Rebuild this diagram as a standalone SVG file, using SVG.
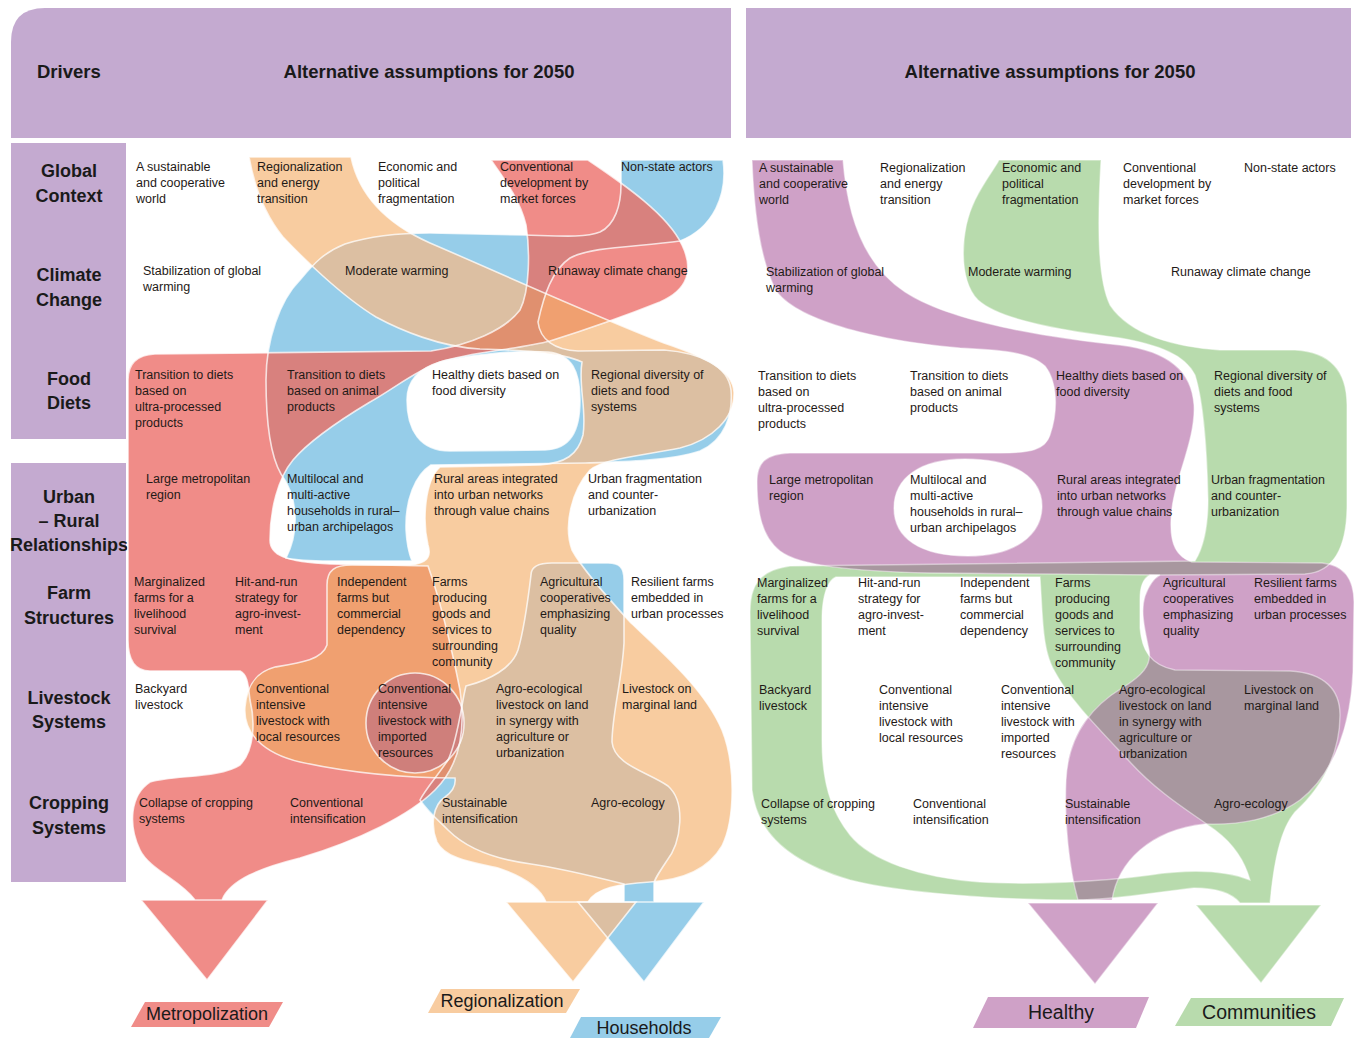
<svg xmlns="http://www.w3.org/2000/svg" width="1359" height="1038" viewBox="0 0 1359 1038">
<style>
.t{font-family:"Liberation Sans",Arial,sans-serif;font-size:12.5px;fill:#1f1a17}
.h{font-family:"Liberation Sans",Arial,sans-serif;font-size:18.5px;font-weight:bold;fill:#1a1a1a}
.r{font-family:"Liberation Sans",Arial,sans-serif;font-size:18px;font-weight:bold;fill:#1a1a1a;text-anchor:middle}
.o{font-family:"Liberation Sans",Arial,sans-serif;font-size:18px;fill:#1a1a1a;text-anchor:middle}
.band{fill:#c4aad0}
.ol{fill:none;stroke:#fff;stroke-width:1.6;stroke-opacity:.75}
.olr{fill:none;stroke:#fff;stroke-width:1.4;stroke-opacity:.45}
</style>
<defs>
<path id="pB" fill-rule="evenodd" clip-rule="evenodd" d="M621,160 L723,160 C728,195 713,228 680,241 C640,247 592,246 570,258 C552,270 544,295 538,322 C540,340 555,350 578,351 L664,350 C700,353 728,365 731,390 C733,415 725,440 700,451 C670,461 620,462 585,463 L431,465 C415,475 405,500 406,530 C407,548 410,556 412,561 L330,561 C310,561 295,560 286,558 C298,535 300,500 281,474 C270,455 266,420 266,380 C266,340 280,300 300,280 C315,262 325,252 345,244 C370,236 400,233 430,233 L524,235 C560,236 585,238 600,232 C615,225 621,205 621,185 Z M407,400 C407,380 420,368 440,362 C470,354 520,350 548,352 C572,354 580,372 580,400 C580,432 570,449 545,450 L450,451 C420,451 407,430 407,400 Z M531,575 C531,566 540,563 552,563 L608,563 C620,563 624,568 624,580 L624,643 C622,680 612,715 612,742 C614,765 648,772 668,786 C686,802 682,842 666,862 C658,874 654,880 654,884 L654,902 L624,902 L624,884 C600,878 560,868 531,864 C500,860 468,850 448,830 C438,820 428,812 420,800 C425,790 438,775 448,760 C458,740 462,700 466,686 C490,680 512,668 518,650 C524,630 528,600 531,575 Z M578,902 L704,902 L644,982 Z"/>
<path id="pO" d="M249,157 L351,157 C360,200 392,226 430,243 C500,273 585,312 664,343 C705,357 733,370 734,392 C735,418 712,440 680,448 C640,456 605,458 590,470 C572,490 563,525 572,550 C582,568 605,595 631,623 C665,655 705,690 722,730 C736,765 735,820 722,846 C708,870 682,880 650,882 C618,884 596,888 588,902 L546,902 C540,888 522,876 498,868 C470,862 445,858 437,842 C430,825 433,805 445,797 C452,792 456,785 455,778 C420,778 360,775 300,762 C262,753 243,732 245,707 C247,685 256,672 275,667 C300,663 322,660 327,645 L327,585 C327,570 335,565 352,565 L410,565 C426,563 432,558 428,545 C422,520 425,480 440,467 L540,465 C565,463 578,455 583,435 C587,410 578,385 582,362 C560,352 520,350 480,349 C440,347 400,330 376,317 C340,295 300,255 283,237 C265,215 255,190 249,157 Z M506,902 L636,902 L573,982 Z"/>
<path id="pR" d="M491,160 L588,160 C625,185 668,215 682,245 C694,270 688,290 660,302 C625,316 585,330 550,341 C520,349 470,352 440,362 C415,371 395,388 370,402 C340,420 310,440 293,460 C278,478 270,510 270,540 C270,555 285,562 330,564 L428,566 C440,600 452,650 460,690 C466,730 460,765 435,790 C410,815 360,840 300,858 C260,868 230,880 222,900 L195,900 C180,880 150,870 140,850 C128,825 130,795 150,782 C175,775 220,778 240,765 C255,750 255,720 250,700 C248,685 248,675 240,671 L150,671 C135,671 128,660 128,640 L128,380 C128,365 135,355 155,354 L431,351 C470,345 505,330 520,310 C530,290 530,250 526,225 C520,200 505,180 491,160 Z M141,900 L268,900 L207,980 Z"/>
<path id="pP" fill-rule="evenodd" clip-rule="evenodd" d="M752,160 L843,160 C848,222 866,266 905,292 C950,322 1050,338 1120,345 C1170,351 1192,372 1194,405 C1196,442 1172,482 1171,520 C1170,545 1177,557 1192,562 L1322,563 C1345,565 1354,580 1354,602 L1353,672 C1351,722 1336,772 1300,800 C1272,820 1240,825 1205,824 C1150,830 1118,862 1112,900 L1078,900 C1069,868 1064,820 1066,780 C1068,740 1086,710 1122,688 C1142,676 1152,665 1149,650 C1145,630 1140,612 1145,596 C1149,585 1154,578 1160,575 C1100,574 1000,574 930,573 C850,571 800,566 780,551 C761,536 757,510 757,482 C757,463 765,454 790,453 L1000,453 C1030,453 1045,450 1050,435 C1058,412 1058,382 1045,366 C1030,352 1000,350 960,348 C880,341 800,322 777,292 C760,262 754,212 752,160 Z M894,508 C894,478 920,459 965,459 C1015,459 1042,478 1042,506 C1042,535 1015,556 968,556 C920,556 894,538 894,508 Z M1028,903 L1158,903 L1095,984 Z"/>
<path id="pG" fill-rule="evenodd" clip-rule="evenodd" d="M999,160 L1101,160 C1097,230 1098,280 1110,305 C1130,335 1175,347 1220,350 L1295,350 C1330,352 1347,370 1347,405 L1347,505 C1347,545 1335,572 1305,574 L1150,575 C1142,579 1140,588 1140,600 L1140,628 C1142,650 1150,665 1175,670 L1290,671 C1325,673 1340,690 1340,715 C1340,750 1325,785 1295,812 C1280,830 1274,862 1270,903 L1240,903 C1232,893 1215,888 1194,888 C1150,893 1110,900 1077,900 C1000,900 900,893 850,880 C790,862 758,835 752,790 L750,612 C750,585 760,570 790,566 L1195,561 C1205,545 1208,520 1208,500 C1207,450 1203,400 1195,375 C1185,355 1160,345 1120,338 C1060,330 1000,320 978,300 C958,280 960,230 975,200 C985,180 995,168 999,160 Z M836,577 L1040,577 C1043,620 1042,650 1055,672 C1070,700 1100,730 1130,762 C1160,795 1195,815 1215,830 C1235,845 1245,862 1250,880 C1225,870 1190,869 1150,875 C1100,882 1030,885 980,882 C920,878 870,860 850,835 C830,810 822,780 822,740 L822,620 C822,595 828,580 836,577 Z M1196,905 L1321,905 L1261,983 Z"/>
<clipPath id="cB"><use href="#pB" clip-rule="evenodd"/></clipPath>
<clipPath id="cO"><use href="#pO"/></clipPath>
<clipPath id="cG"><use href="#pG" clip-rule="evenodd"/></clipPath>
</defs>

<g id="header-left"><path class="band" d="M11,138 L11,42 Q11,8 45,8 L731,8 L731,138 Z"/>
<text class="h" x="37" y="78">Drivers</text>
<text class="h" x="429" y="78" text-anchor="middle">Alternative assumptions for 2050</text></g>
<g id="header-right"><rect class="band" x="746" y="8" width="605" height="130"/>
<text class="h" x="1050" y="78" text-anchor="middle">Alternative assumptions for 2050</text></g>

<g id="row-labels">
<rect class="band" x="11" y="143" width="115" height="296"/>
<rect class="band" x="11" y="463" width="115" height="419"/>
<g id="lab-global"><text class="r" x="69" y="177">Global</text><text class="r" x="69" y="202">Context</text></g>
<g id="lab-climate"><text class="r" x="69" y="281">Climate</text><text class="r" x="69" y="306">Change</text></g>
<g id="lab-food"><text class="r" x="69" y="385">Food</text><text class="r" x="69" y="409">Diets</text></g>
<g id="lab-urban"><text class="r" x="69" y="503">Urban</text><text class="r" x="69" y="527">– Rural</text><text class="r" x="69" y="551">Relationships</text></g>
<g id="lab-farm"><text class="r" x="69" y="599">Farm</text><text class="r" x="69" y="624">Structures</text></g>
<g id="lab-livestock"><text class="r" x="69" y="704">Livestock</text><text class="r" x="69" y="728">Systems</text></g>
<g id="lab-cropping"><text class="r" x="69" y="809">Cropping</text><text class="r" x="69" y="834">Systems</text></g>
</g>

<g id="connectors">
<g id="flows-left">
<use href="#pB" fill="#96cde9"/>
<use href="#pO" fill="#f8cca0"/>
<use href="#pR" fill="#f08c88"/>
<g clip-path="url(#cB)"><use href="#pO" fill="#dcbfa2"/></g>
<g clip-path="url(#cB)"><use href="#pR" fill="#d8817e"/></g>
<g clip-path="url(#cO)"><use href="#pR" fill="#f0a070"/></g>
<g clip-path="url(#cO)"><g clip-path="url(#cB)"><use href="#pR" fill="#e0906f"/></g></g>
<ellipse cx="415" cy="723" rx="49" ry="50" fill="#cf7f7b"/>
<use href="#pB" class="ol"/>
<use href="#pO" class="ol"/>
<use href="#pR" class="ol"/>
<ellipse cx="415" cy="723" rx="49" ry="50" class="ol"/>
</g>
<g id="flows-right">
<use href="#pG" fill="#b8dbad"/>
<use href="#pP" fill="#cfa1c7"/>
<g clip-path="url(#cG)"><use href="#pP" fill="#a8979f"/></g>
<use href="#pG" class="olr"/>
<use href="#pP" class="olr"/>
</g>
</g>

<g id="cells-left">
<g id="L-gc1"><text class="t" x="136" y="171">A sustainable<tspan x="136" dy="16">and cooperative</tspan><tspan x="136" dy="16">world</tspan></text></g>
<g id="L-gc2"><text class="t" x="257" y="171">Regionalization<tspan x="257" dy="16">and energy</tspan><tspan x="257" dy="16">transition</tspan></text></g>
<g id="L-gc3"><text class="t" x="378" y="171">Economic and<tspan x="378" dy="16">political</tspan><tspan x="378" dy="16">fragmentation</tspan></text></g>
<g id="L-gc4"><text class="t" x="500" y="171">Conventional<tspan x="500" dy="16">development by</tspan><tspan x="500" dy="16">market forces</tspan></text></g>
<g id="L-gc5"><text class="t" x="621" y="171">Non-state actors</text></g>
<g id="L-cc1"><text class="t" x="143" y="275">Stabilization of global<tspan x="143" dy="16">warming</tspan></text></g>
<g id="L-cc2"><text class="t" x="345" y="275">Moderate warming</text></g>
<g id="L-cc3"><text class="t" x="548" y="275">Runaway climate change</text></g>
<g id="L-fd1"><text class="t" x="135" y="379">Transition to diets<tspan x="135" dy="16">based on</tspan><tspan x="135" dy="16">ultra-processed</tspan><tspan x="135" dy="16">products</tspan></text></g>
<g id="L-fd2"><text class="t" x="287" y="379">Transition to diets<tspan x="287" dy="16">based on animal</tspan><tspan x="287" dy="16">products</tspan></text></g>
<g id="L-fd3"><text class="t" x="432" y="379">Healthy diets based on<tspan x="432" dy="16">food diversity</tspan></text></g>
<g id="L-fd4"><text class="t" x="591" y="379">Regional diversity of<tspan x="591" dy="16">diets and food</tspan><tspan x="591" dy="16">systems</tspan></text></g>
<g id="L-ur1"><text class="t" x="146" y="483">Large metropolitan<tspan x="146" dy="16">region</tspan></text></g>
<g id="L-ur2"><text class="t" x="287" y="483">Multilocal and<tspan x="287" dy="16">multi-active</tspan><tspan x="287" dy="16">households in rural–</tspan><tspan x="287" dy="16">urban archipelagos</tspan></text></g>
<g id="L-ur3"><text class="t" x="434" y="483">Rural areas integrated<tspan x="434" dy="16">into urban networks</tspan><tspan x="434" dy="16">through value chains</tspan></text></g>
<g id="L-ur4"><text class="t" x="588" y="483">Urban fragmentation<tspan x="588" dy="16">and counter-</tspan><tspan x="588" dy="16">urbanization</tspan></text></g>
<g id="L-fs1"><text class="t" x="134" y="586">Marginalized<tspan x="134" dy="16">farms for a</tspan><tspan x="134" dy="16">livelihood</tspan><tspan x="134" dy="16">survival</tspan></text></g>
<g id="L-fs2"><text class="t" x="235" y="586">Hit-and-run<tspan x="235" dy="16">strategy for</tspan><tspan x="235" dy="16">agro-invest-</tspan><tspan x="235" dy="16">ment</tspan></text></g>
<g id="L-fs3"><text class="t" x="337" y="586">Independent<tspan x="337" dy="16">farms but</tspan><tspan x="337" dy="16">commercial</tspan><tspan x="337" dy="16">dependency</tspan></text></g>
<g id="L-fs4"><text class="t" x="432" y="586">Farms<tspan x="432" dy="16">producing</tspan><tspan x="432" dy="16">goods and</tspan><tspan x="432" dy="16">services to</tspan><tspan x="432" dy="16">surrounding</tspan><tspan x="432" dy="16">community</tspan></text></g>
<g id="L-fs5"><text class="t" x="540" y="586">Agricultural<tspan x="540" dy="16">cooperatives</tspan><tspan x="540" dy="16">emphasizing</tspan><tspan x="540" dy="16">quality</tspan></text></g>
<g id="L-fs6"><text class="t" x="631" y="586">Resilient farms<tspan x="631" dy="16">embedded in</tspan><tspan x="631" dy="16">urban processes</tspan></text></g>
<g id="L-ls1"><text class="t" x="135" y="693">Backyard<tspan x="135" dy="16">livestock</tspan></text></g>
<g id="L-ls2"><text class="t" x="256" y="693">Conventional<tspan x="256" dy="16">intensive</tspan><tspan x="256" dy="16">livestock with</tspan><tspan x="256" dy="16">local resources</tspan></text></g>
<g id="L-ls3"><text class="t" x="378" y="693">Conventional<tspan x="378" dy="16">intensive</tspan><tspan x="378" dy="16">livestock with</tspan><tspan x="378" dy="16">imported</tspan><tspan x="378" dy="16">resources</tspan></text></g>
<g id="L-ls4"><text class="t" x="496" y="693">Agro-ecological<tspan x="496" dy="16">livestock on land</tspan><tspan x="496" dy="16">in synergy with</tspan><tspan x="496" dy="16">agriculture or</tspan><tspan x="496" dy="16">urbanization</tspan></text></g>
<g id="L-ls5"><text class="t" x="622" y="693">Livestock on<tspan x="622" dy="16">marginal land</tspan></text></g>
<g id="L-cs1"><text class="t" x="139" y="807">Collapse of cropping<tspan x="139" dy="16">systems</tspan></text></g>
<g id="L-cs2"><text class="t" x="290" y="807">Conventional<tspan x="290" dy="16">intensification</tspan></text></g>
<g id="L-cs3"><text class="t" x="442" y="807">Sustainable<tspan x="442" dy="16">intensification</tspan></text></g>
<g id="L-cs4"><text class="t" x="591" y="807">Agro-ecology</text></g>
</g>

<g id="cells-right">
<g id="R-gc1"><text class="t" x="759" y="172">A sustainable<tspan x="759" dy="16">and cooperative</tspan><tspan x="759" dy="16">world</tspan></text></g>
<g id="R-gc2"><text class="t" x="880" y="172">Regionalization<tspan x="880" dy="16">and energy</tspan><tspan x="880" dy="16">transition</tspan></text></g>
<g id="R-gc3"><text class="t" x="1002" y="172">Economic and<tspan x="1002" dy="16">political</tspan><tspan x="1002" dy="16">fragmentation</tspan></text></g>
<g id="R-gc4"><text class="t" x="1123" y="172">Conventional<tspan x="1123" dy="16">development by</tspan><tspan x="1123" dy="16">market forces</tspan></text></g>
<g id="R-gc5"><text class="t" x="1244" y="172">Non-state actors</text></g>
<g id="R-cc1"><text class="t" x="766" y="276">Stabilization of global<tspan x="766" dy="16">warming</tspan></text></g>
<g id="R-cc2"><text class="t" x="968" y="276">Moderate warming</text></g>
<g id="R-cc3"><text class="t" x="1171" y="276">Runaway climate change</text></g>
<g id="R-fd1"><text class="t" x="758" y="380">Transition to diets<tspan x="758" dy="16">based on</tspan><tspan x="758" dy="16">ultra-processed</tspan><tspan x="758" dy="16">products</tspan></text></g>
<g id="R-fd2"><text class="t" x="910" y="380">Transition to diets<tspan x="910" dy="16">based on animal</tspan><tspan x="910" dy="16">products</tspan></text></g>
<g id="R-fd3"><text class="t" x="1056" y="380">Healthy diets based on<tspan x="1056" dy="16">food diversity</tspan></text></g>
<g id="R-fd4"><text class="t" x="1214" y="380">Regional diversity of<tspan x="1214" dy="16">diets and food</tspan><tspan x="1214" dy="16">systems</tspan></text></g>
<g id="R-ur1"><text class="t" x="769" y="484">Large metropolitan<tspan x="769" dy="16">region</tspan></text></g>
<g id="R-ur2"><text class="t" x="910" y="484">Multilocal and<tspan x="910" dy="16">multi-active</tspan><tspan x="910" dy="16">households in rural–</tspan><tspan x="910" dy="16">urban archipelagos</tspan></text></g>
<g id="R-ur3"><text class="t" x="1057" y="484">Rural areas integrated<tspan x="1057" dy="16">into urban networks</tspan><tspan x="1057" dy="16">through value chains</tspan></text></g>
<g id="R-ur4"><text class="t" x="1211" y="484">Urban fragmentation<tspan x="1211" dy="16">and counter-</tspan><tspan x="1211" dy="16">urbanization</tspan></text></g>
<g id="R-fs1"><text class="t" x="757" y="587">Marginalized<tspan x="757" dy="16">farms for a</tspan><tspan x="757" dy="16">livelihood</tspan><tspan x="757" dy="16">survival</tspan></text></g>
<g id="R-fs2"><text class="t" x="858" y="587">Hit-and-run<tspan x="858" dy="16">strategy for</tspan><tspan x="858" dy="16">agro-invest-</tspan><tspan x="858" dy="16">ment</tspan></text></g>
<g id="R-fs3"><text class="t" x="960" y="587">Independent<tspan x="960" dy="16">farms but</tspan><tspan x="960" dy="16">commercial</tspan><tspan x="960" dy="16">dependency</tspan></text></g>
<g id="R-fs4"><text class="t" x="1055" y="587">Farms<tspan x="1055" dy="16">producing</tspan><tspan x="1055" dy="16">goods and</tspan><tspan x="1055" dy="16">services to</tspan><tspan x="1055" dy="16">surrounding</tspan><tspan x="1055" dy="16">community</tspan></text></g>
<g id="R-fs5"><text class="t" x="1163" y="587">Agricultural<tspan x="1163" dy="16">cooperatives</tspan><tspan x="1163" dy="16">emphasizing</tspan><tspan x="1163" dy="16">quality</tspan></text></g>
<g id="R-fs6"><text class="t" x="1254" y="587">Resilient farms<tspan x="1254" dy="16">embedded in</tspan><tspan x="1254" dy="16">urban processes</tspan></text></g>
<g id="R-ls1"><text class="t" x="759" y="694">Backyard<tspan x="759" dy="16">livestock</tspan></text></g>
<g id="R-ls2"><text class="t" x="879" y="694">Conventional<tspan x="879" dy="16">intensive</tspan><tspan x="879" dy="16">livestock with</tspan><tspan x="879" dy="16">local resources</tspan></text></g>
<g id="R-ls3"><text class="t" x="1001" y="694">Conventional<tspan x="1001" dy="16">intensive</tspan><tspan x="1001" dy="16">livestock with</tspan><tspan x="1001" dy="16">imported</tspan><tspan x="1001" dy="16">resources</tspan></text></g>
<g id="R-ls4"><text class="t" x="1119" y="694">Agro-ecological<tspan x="1119" dy="16">livestock on land</tspan><tspan x="1119" dy="16">in synergy with</tspan><tspan x="1119" dy="16">agriculture or</tspan><tspan x="1119" dy="16">urbanization</tspan></text></g>
<g id="R-ls5"><text class="t" x="1244" y="694">Livestock on<tspan x="1244" dy="16">marginal land</tspan></text></g>
<g id="R-cs1"><text class="t" x="761" y="808">Collapse of cropping<tspan x="761" dy="16">systems</tspan></text></g>
<g id="R-cs2"><text class="t" x="913" y="808">Conventional<tspan x="913" dy="16">intensification</tspan></text></g>
<g id="R-cs3"><text class="t" x="1065" y="808">Sustainable<tspan x="1065" dy="16">intensification</tspan></text></g>
<g id="R-cs4"><text class="t" x="1214" y="808">Agro-ecology</text></g>
</g>

<g id="out-metropolization"><path d="M145,1002 L283,1002 L269,1027 L131,1027 Z" fill="#f08c88"/><text class="o" x="207" y="1020">Metropolization</text></g>
<g id="out-regionalization"><path d="M441,989 L580,989 L566,1013 L428,1013 Z" fill="#f8cca0"/><text class="o" x="502" y="1007">Regionalization</text></g>
<g id="out-households"><path d="M581,1017 L721,1017 L709,1038 L570,1038 Z" fill="#96cde9"/><text class="o" x="644" y="1034">Households</text></g>
<g id="out-healthy"><path d="M988,997 L1149,997 L1136,1028 L973,1028 Z" fill="#cfa1c7"/><text class="o" x="1061" y="1019" style="font-size:19.5px">Healthy</text></g>
<g id="out-communities"><path d="M1191,998 L1344,998 L1331,1026 L1175,1026 Z" fill="#b8dbad"/><text class="o" x="1259" y="1019" style="font-size:19.5px">Communities</text></g>
</svg>
